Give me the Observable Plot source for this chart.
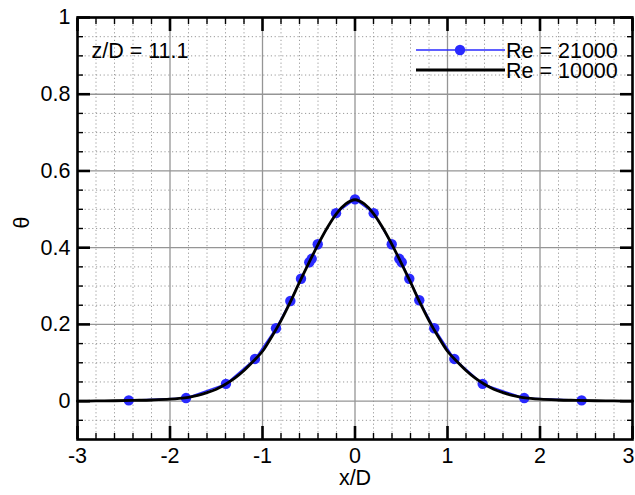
<!DOCTYPE html>
<html><head><meta charset="utf-8">
<script src="https://cdn.jsdelivr.net/npm/d3@7"></script>
<script src="https://cdn.jsdelivr.net/npm/@observablehq/plot@0.6"></script>
<style>body{margin:0;background:#fff;}</style>
</head><body><div id="chart"></div>
<script>
// ---- data ----
const curveX = [-3, -2.8, -2.6, -2.4, -2.2, -2.0, -1.9, -1.8, -1.7, -1.6, -1.5, -1.4, -1.3, -1.2, -1.1, -1.0, -0.9, -0.8, -0.7, -0.6, -0.5, -0.4, -0.3, -0.2, -0.1, 0,
  0.1, 0.2, 0.3, 0.4, 0.5, 0.6, 0.7, 0.8, 0.9, 1.0, 1.1, 1.2, 1.3, 1.4, 1.5, 1.6, 1.7, 1.8, 1.9, 2.0, 2.2, 2.4, 2.6, 2.8, 3];
const curveY = [0.0, 0.0005, 0.001, 0.002, 0.003, 0.005, 0.007, 0.010, 0.015, 0.022, 0.031, 0.044, 0.060, 0.080, 0.104, 0.130, 0.168, 0.210, 0.258, 0.310, 0.360, 0.408, 0.452, 0.489, 0.514, 0.525,
  0.514, 0.489, 0.452, 0.408, 0.360, 0.310, 0.258, 0.210, 0.168, 0.130, 0.104, 0.080, 0.060, 0.044, 0.031, 0.022, 0.015, 0.010, 0.007, 0.005, 0.003, 0.002, 0.001, 0.0005, 0.0];
const re21000X = [-2.446, -1.827, -1.395, -1.081, -0.854, -0.699, -0.584, -0.494, -0.468, -0.403, -0.205, 0,
  0.202, 0.397, 0.479, 0.505, 0.587, 0.695, 0.857, 1.074, 1.38, 1.83, 2.45];
const re21000Y = [0.002, 0.008, 0.045, 0.11, 0.19, 0.261, 0.319, 0.362, 0.371, 0.409, 0.49, 0.526,
  0.49, 0.409, 0.371, 0.362, 0.319, 0.263, 0.19, 0.11, 0.045, 0.008, 0.002];
const xMajorTicks = [-3, -2, -1, 0, 1, 2, 3];
const xMinorTicks = [-2.8, -2.6, -2.4, -2.2, -1.8, -1.6, -1.4, -1.2, -0.8, -0.6, -0.4, -0.2, 0.2, 0.4, 0.6, 0.8, 1.2, 1.4, 1.6, 1.8, 2.2, 2.4, 2.6, 2.8];
const yMajorTicks = [0, 0.2, 0.4, 0.6, 0.8, 1];
const yMinorTicks = [-0.05, 0.05, 0.1, 0.15, 0.25, 0.3, 0.35, 0.45, 0.5, 0.55, 0.65, 0.7, 0.75, 0.85, 0.9, 0.95];
const seriesNames = ["Re = 21000", "Re = 10000"];
const annotation = "z/D = 11.1";
const xLabel = "x/D";
const yLabel = "θ";

// ---- build ----
const BLUE = "#2a2aff";
const FONT = "'Liberation Sans', Arial, Helvetica, sans-serif";
const FS = 21.5;
const curve = curveX.map((x, i) => ({x, y: curveY[i]}));
const pts = re21000X.map((x, i) => ({x, y: re21000Y[i]}));
const fmt = d => String(d);
const dotted = {stroke: "#9a9a9a", strokeOpacity: 1, strokeWidth: 1, strokeDasharray: "1.2,2.6"};
const solid = {stroke: "#959595", strokeOpacity: 1, strokeWidth: 1.3};
const xLabelTicksInner = xMajorTicks.slice(0, -1);
const xLabelTicksLast = xMajorTicks.slice(-1);

const plot = Plot.plot({
  width: 635, height: 495,
  marginLeft: 77, marginRight: 3, marginTop: 17, marginBottom: 56,
  x: {domain: [-3, 3]},
  y: {domain: [-0.1, 1]},
  style: {fontFamily: FONT, fontSize: FS + "px", background: "white", color: "black", overflow: "visible"},
  marks: [
    Plot.gridX(xMinorTicks, dotted),
    Plot.gridY(yMinorTicks, dotted),
    Plot.gridX(xMajorTicks, solid),
    Plot.gridY(yMajorTicks, solid),
    Plot.line(pts, {x: "x", y: "y", stroke: BLUE, strokeWidth: 1.5}),
    Plot.dot(pts, {x: "x", y: "y", r: 5.2, fill: BLUE, stroke: "none"}),
    Plot.line(curve, {x: "x", y: "y", stroke: "black", strokeWidth: 2.8, curve: "monotone-x"}),
    // inward ticks
    Plot.axisX(xMajorTicks, {anchor: "bottom", tickSize: -13, strokeWidth: 2.6, fill: "none", label: null}),
    Plot.axisX(xMajorTicks, {anchor: "top", tickSize: -13, strokeWidth: 2.6, fill: "none", label: null}),
    Plot.axisX(xMinorTicks, {anchor: "bottom", tickSize: -6, strokeWidth: 1.4, fill: "none", label: null}),
    Plot.axisX(xMinorTicks, {anchor: "top", tickSize: -6, strokeWidth: 1.4, fill: "none", label: null}),
    Plot.axisY(yMajorTicks, {anchor: "left", tickSize: -13, strokeWidth: 2.6, fill: "none", label: null}),
    Plot.axisY(yMajorTicks, {anchor: "right", tickSize: -13, strokeWidth: 2.6, fill: "none", label: null}),
    Plot.axisY(yMinorTicks, {anchor: "left", tickSize: -6, strokeWidth: 1.4, fill: "none", label: null}),
    Plot.axisY(yMinorTicks, {anchor: "right", tickSize: -6, strokeWidth: 1.4, fill: "none", label: null}),
    // tick labels
    Plot.axisX(xLabelTicksInner, {anchor: "bottom", tickSize: 0, tickPadding: 8, tickFormat: fmt, label: null, fontSize: FS}),
    Plot.axisX(xLabelTicksLast, {anchor: "bottom", tickSize: 0, tickPadding: 8, tickFormat: fmt, label: null, fontSize: FS, dx: -4}),
    Plot.axisY(yMajorTicks, {anchor: "left", tickSize: 0, tickPadding: 7, tickFormat: fmt, label: null, fontSize: FS}),
    Plot.frame({stroke: "black", strokeWidth: 2.6}),
    Plot.text([annotation], {text: d => d, frameAnchor: "top-left", dx: 14, dy: 25, textAnchor: "start", fontSize: FS}),
    Plot.text([xLabel], {text: d => d, frameAnchor: "bottom", dy: 45, fontSize: FS}),
    Plot.text([yLabel], {text: d => d, frameAnchor: "left", dx: -55, rotate: -90, fontSize: FS})
  ]
});

// legend (inside the plot area, top right)
const svg = d3.select(plot);
const lg = svg.append("g").attr("font-family", FONT).attr("font-size", FS).attr("text-anchor", "start");
const rows = [
  {name: seriesNames[0], color: BLUE, width: 1.5, marker: true, y: 50},
  {name: seriesNames[1], color: "black", width: 3, marker: false, y: 70}
];
rows.forEach(r => {
  lg.append("line").attr("x1", 416).attr("x2", 505).attr("y1", r.y).attr("y2", r.y)
    .attr("stroke", r.color).attr("stroke-width", r.width);
  if (r.marker) lg.append("circle").attr("cx", 460).attr("cy", r.y).attr("r", 5.2).attr("fill", r.color);
  lg.append("text").attr("x", 506).attr("y", r.y).attr("dy", "0.36em").attr("fill", "black")
    .attr("text-anchor", "start").text(r.name);
});

document.getElementById("chart").appendChild(plot);
</script>
</body></html>
